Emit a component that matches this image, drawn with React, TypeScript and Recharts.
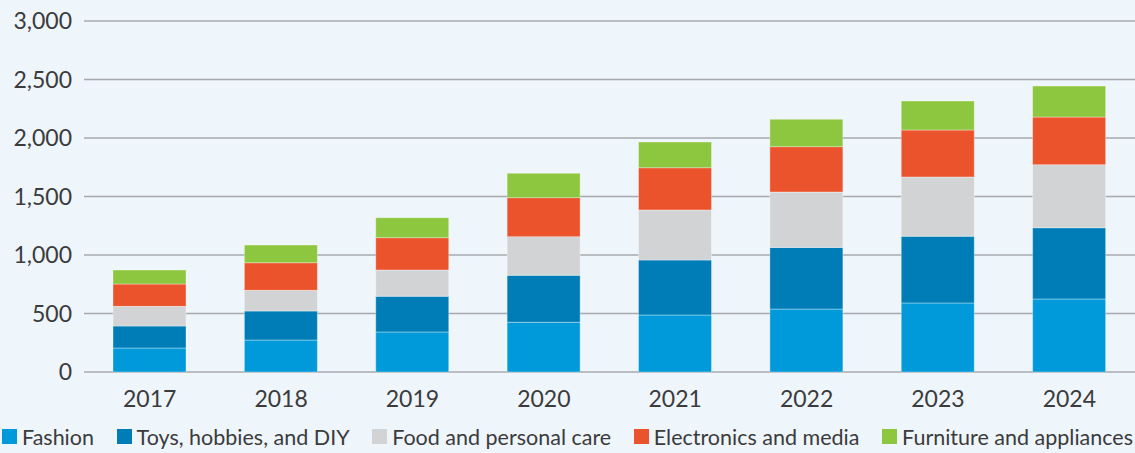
import { BarChart, Bar, XAxis, YAxis, CartesianGrid, Legend } from 'recharts';

const years = ['2017', '2018', '2019', '2020', '2021', '2022', '2023', '2024'];
const fashion = [205, 273, 342, 425, 487, 538, 590, 624];
const toys = [188, 248, 305, 401, 470, 527, 570, 609];
const food = [168, 177, 225, 331, 428, 473, 507, 539];
const electronics = [191, 236, 276, 333, 361, 388, 401, 407];
const furniture = [120, 151, 171, 208, 220, 234, 248, 265];
const yTicks = [0, 500, 1000, 1500, 2000, 2500, 3000];

const series = [
  { key: 'fashion', name: 'Fashion', color: '#009ADA' },
  { key: 'toys', name: 'Toys, hobbies, and DIY', color: '#007DB6' },
  { key: 'food', name: 'Food and personal care', color: '#D1D3D4' },
  { key: 'electronics', name: 'Electronics and media', color: '#EA532B' },
  { key: 'furniture', name: 'Furniture and appliances', color: '#8DC63F' },
];

const data = years.map((year, i) => ({
  year,
  fashion: fashion[i],
  toys: toys[i],
  food: food[i],
  electronics: electronics[i],
  furniture: furniture[i],
}));

const textColor = '#3b3b3c';
const font = 'Lato, "Open Sans", sans-serif';

const LegendContent = () => (
  <div
    style={{
      display: 'flex',
      justifyContent: 'space-between',
      alignItems: 'center',
      height: 33,
      paddingLeft: 2,
      paddingRight: 2,
      boxSizing: 'border-box',
      fontFamily: font,
      fontSize: 21.5,
      color: textColor,
    }}
  >
    {series.map((s) => (
      <div key={s.key} style={{ display: 'flex', alignItems: 'center', whiteSpace: 'nowrap' }}>
        <span style={{ width: 15, height: 15, background: s.color, marginRight: 5, display: 'inline-block' }} />
        <span>{s.name}</span>
      </div>
    ))}
  </div>
);

const App = () => {
  return (
    <div style={{ position: 'absolute', top: 0, left: 0, width: 1135, height: 453, background: '#EEF5FB' }}>
      <BarChart width={1135} height={453} data={data} margin={{ top: 21, right: 0, left: 0, bottom: 0 }}>
        <CartesianGrid vertical={false} stroke="#A7A9AC" strokeWidth={1.5} />
        <XAxis
          dataKey="year"
          axisLine={false}
          tickLine={false}
          tickSize={0}
          tickMargin={19}
          height={48}
          tick={{ fontSize: 23, fill: textColor, fontFamily: font }}
        />
        <YAxis
          domain={[0, 3000]}
          ticks={yTicks}
          axisLine={false}
          tickLine={false}
          tickSize={0}
          tickMargin={12}
          width={84}
          tickFormatter={(v: number) => v.toLocaleString('en-US')}
          tick={{ fontSize: 23, fill: textColor, fontFamily: font }}
        />
        <Legend verticalAlign="bottom" height={33} content={<LegendContent />} />
        {series.map((s) => (
          <Bar
            key={s.key}
            dataKey={s.key}
            name={s.name}
            stackId="a"
            fill={s.color}
            stroke="#ffffff"
            strokeOpacity={0.35}
            strokeWidth={1}
            barSize={73}
            isAnimationActive={false}
          />
        ))}
      </BarChart>
    </div>
  );
};

export default App;
